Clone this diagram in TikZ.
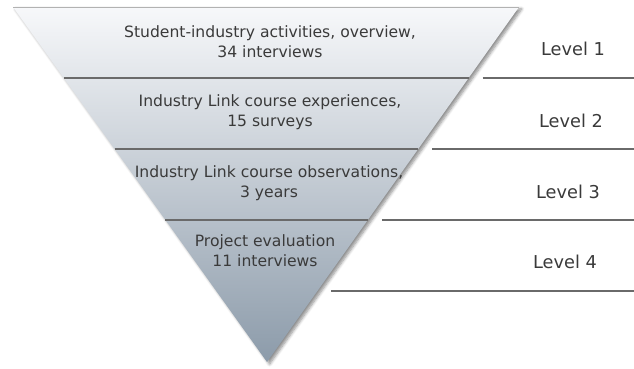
\documentclass[tikz,border=0pt]{standalone}
\usepackage{fontspec}
\setmainfont{DejaVu Sans}
\usetikzlibrary{calc,shadows.blur}
\definecolor{funtop}{HTML}{F7F8FA}
\definecolor{funbot}{HTML}{8C9BAA}
\definecolor{divline}{HTML}{6A6A6A}
\definecolor{txtgray}{HTML}{3A3A3A}
\tikzset{
  stagetext/.style={align=center, text=txtgray, font=\fontsize{11.7}{15}\selectfont},
  leveltext/.style={text=txtgray, font=\fontsize{13.3}{16}\selectfont},
  divider/.style={line width=1.8pt, draw=divline},
}

\begin{document}
\begin{tikzpicture}[x=0.75pt,y=0.75pt]
	%%%%% START %%%%%
	\useasboundingbox (0,0) rectangle (634,368);
	\coordinate (edge) at (634,0);
	
	\coordinate (tl) at (13,361);
	\coordinate (tr) at (519,361);
	\coordinate (apex) at (267,6);
	
	\shade[top color=funtop, bottom color=funbot,
	  blur shadow={shadow xshift=2pt, shadow yshift=-1.5pt, shadow blur steps=6, shadow opacity=45}]
	  (tl) -- (tr) -- (apex) -- cycle;
	\draw[line width=0.6pt, draw=black!30] (tl) -- (tr);
	
	\foreach \t in {0.2,0.4,0.6}
		\draw[divider] ($(tl)!\t!(apex)$) -- ($(tr)!\t!(apex)$);
	
	\foreach \t/\n in {0.2/1,0.4/2,0.6/3,0.8/4} {
		\coordinate (r\n) at ($(tr)!\t!(apex)+(14,0)$);
		\draw[divider] (r\n) -- (r\n -| edge);
	}
	
	\node[stagetext] (stage1) at (270,326) {Student-industry activities, overview,\\34 interviews};
	\node[stagetext] (stage2) at (270,256) {Industry Link course experiences,\\15 surveys};
	\node[stagetext] (stage3) at (269,185) {Industry Link course observations,\\3 years};
	\node[stagetext] (stage4) at (265,117) {Project evaluation\\11 interviews};
	
	\node[leveltext] (level1) at (573,319) {Level 1};
	\node[leveltext] (level2) at (571,247) {Level 2};
	\node[leveltext] (level3) at (568,176) {Level 3};
	\node[leveltext] (level4) at (565,106) {Level 4};
	
	%%%%% END %%%%%
\end{tikzpicture}
\end{document}
